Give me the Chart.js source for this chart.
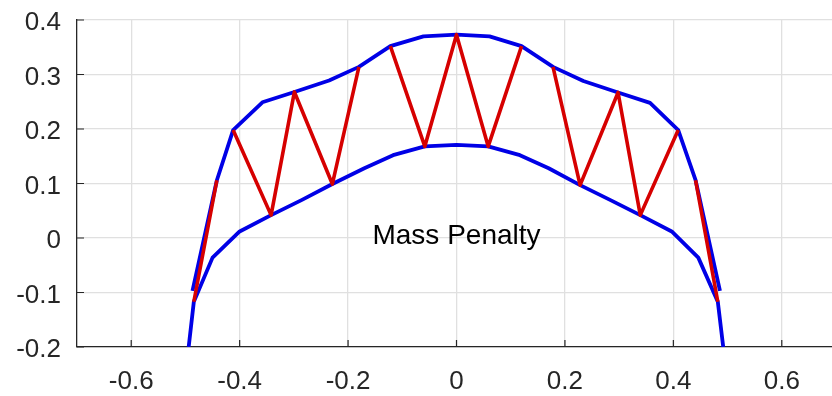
<!DOCTYPE html>
<html>
<head>
<meta charset="utf-8">
<script src="https://cdn.jsdelivr.net/npm/chart.js@4/dist/chart.umd.min.js"></script>
<style>
  html, body { margin: 0; padding: 0; background: #fff; overflow: hidden; }
  #wrap { position: relative; width: 836px; height: 396px; }
</style>
</head>
<body>
<div id="wrap"><canvas id="c"></canvas></div>
<script>
// Outer chord of the arch
const outerX = [-0.487, -0.442, -0.412, -0.358, -0.299, -0.235, -0.180, -0.122, -0.061, 0.000,
                 0.061,  0.120,  0.178,  0.234,  0.298,  0.357,  0.409,  0.441,  0.486];
const outerY = [-0.097, 0.106, 0.198, 0.249, 0.268, 0.289, 0.314, 0.352, 0.370, 0.373,
                 0.370, 0.352, 0.314, 0.288, 0.267, 0.248, 0.198, 0.106, -0.097];

// Inner chord of the arch
const innerX = [-0.494, -0.4845, -0.450, -0.400, -0.342, -0.285, -0.229, -0.170, -0.117, -0.0585, 0.000,
                 0.0585, 0.117, 0.170, 0.228, 0.285, 0.339, 0.397, 0.446, 0.482, 0.492];
const innerY = [-0.200, -0.117, -0.036, 0.012, 0.042, 0.070, 0.099, 0.128, 0.152, 0.168, 0.171,
                 0.168, 0.152, 0.128, 0.097, 0.069, 0.042, 0.012, -0.036, -0.117, -0.200];

// Web members (null separates the pieces)
const webX = [-0.4845, -0.442, null, -0.412, -0.342, -0.299, -0.229, -0.180, null,
              -0.122, -0.0585, 0.000, 0.0585, 0.120, null,
               0.178, 0.228, 0.298, 0.339, 0.409, null, 0.441, 0.482];
const webY = [-0.117, 0.106, null, 0.198, 0.042, 0.268, 0.099, 0.314, null,
               0.352, 0.168, 0.373, 0.168, 0.352, null,
               0.314, 0.097, 0.267, 0.042, 0.198, null, 0.106, -0.117];

const xTickValues = [-0.6, -0.4, -0.2, 0, 0.2, 0.4, 0.6];
const xTickLabels = ['-0.6', '-0.4', '-0.2', '0', '0.2', '0.4', '0.6'];
const yTickValues = [-0.2, -0.1, 0, 0.1, 0.2, 0.3, 0.4];
const yTickLabels = ['-0.2', '-0.1', '0', '0.1', '0.2', '0.3', '0.4'];

const noteText = 'Mass Penalty';
const noteX = 0;
const noteY = 0;

function toPoints(xs, ys) {
  return xs.map((x, i) => (x === null ? { x: null, y: null } : { x: x, y: ys[i] }));
}

const AXIS_COLOR = '#262626';
const FONT = '"Liberation Sans", Arial, Helvetica, sans-serif';

// Inward tick marks on the left and bottom axes, plus the text note
const decorations = {
  id: 'decorations',
  beforeDatasetsDraw(chart) {
    const { ctx, chartArea, scales } = chart;
    const len = 7;
    ctx.save();
    ctx.strokeStyle = AXIS_COLOR;
    ctx.lineWidth = 1.2;
    ctx.beginPath();
    xTickValues.forEach(v => {
      const px = scales.x.getPixelForValue(v);
      ctx.moveTo(px, chartArea.bottom);
      ctx.lineTo(px, chartArea.bottom - len);
    });
    yTickValues.forEach(v => {
      const py = scales.y.getPixelForValue(v);
      ctx.moveTo(chartArea.left, py);
      ctx.lineTo(chartArea.left + len, py);
    });
    ctx.stroke();
    ctx.restore();
  },
  afterDatasetsDraw(chart) {
    const { ctx, scales } = chart;
    ctx.save();
    ctx.fillStyle = '#000';
    ctx.font = '28px ' + FONT;
    ctx.textAlign = 'center';
    ctx.textBaseline = 'middle';
    ctx.fillText(noteText, scales.x.getPixelForValue(noteX), scales.y.getPixelForValue(noteY) - 2);
    ctx.restore();
  }
};

new Chart(document.getElementById('c'), {
  type: 'scatter',
  data: {
    datasets: [
      {
        label: 'Web',
        data: toPoints(webX, webY),
        showLine: true,
        spanGaps: false,
        borderColor: 'rgb(214,0,0)',
        borderWidth: 3.6,
        borderJoinStyle: 'round',
        pointRadius: 0,
        tension: 0
      },
      {
        label: 'Outer',
        data: toPoints(outerX, outerY),
        showLine: true,
        borderColor: 'rgb(0,0,230)',
        borderWidth: 3.8,
        borderJoinStyle: 'round',
        pointRadius: 0,
        tension: 0
      },
      {
        label: 'Inner',
        data: toPoints(innerX, innerY),
        showLine: true,
        borderColor: 'rgb(0,0,230)',
        borderWidth: 3.8,
        borderJoinStyle: 'round',
        pointRadius: 0,
        tension: 0
      }
    ]
  },
  options: {
    responsive: true,
    maintainAspectRatio: false,
    animation: false,
    events: [],
    layout: { padding: { top: 20, left: 0, right: 0, bottom: 0 } },
    plugins: { legend: { display: false }, tooltip: { enabled: false } },
    scales: {
      x: {
        type: 'linear',
        min: -0.7,
        max: 0.7,
        afterBuildTicks: s => { s.ticks = xTickValues.map(v => ({ value: v })); },
        afterFit: s => { s.height = 49; s.paddingLeft = 0; s.paddingRight = 0; },
        grid: { color: '#e0e0e0', lineWidth: 1.3, drawTicks: false },
        border: { color: AXIS_COLOR, width: 1.3 },
        ticks: {
          padding: 19,
          color: AXIS_COLOR,
          font: { family: FONT, size: 26 },
          maxRotation: 0,
          autoSkip: false,
          callback: (v, i) => xTickLabels[i]
        }
      },
      y: {
        type: 'linear',
        min: -0.2,
        max: 0.4,
        afterBuildTicks: s => { s.ticks = yTickValues.map(v => ({ value: v })); },
        afterFit: s => { s.width = 77; s.paddingTop = 0; s.paddingBottom = 0; },
        grid: { color: '#e0e0e0', lineWidth: 1.3, drawTicks: false },
        border: { color: AXIS_COLOR, width: 1.3 },
        ticks: {
          padding: 16,
          labelOffset: 3,
          color: AXIS_COLOR,
          font: { family: FONT, size: 26 },
          autoSkip: false,
          callback: (v, i) => yTickLabels[i]
        }
      }
    }
  },
  plugins: [decorations]
});
</script>
</body>
</html>
